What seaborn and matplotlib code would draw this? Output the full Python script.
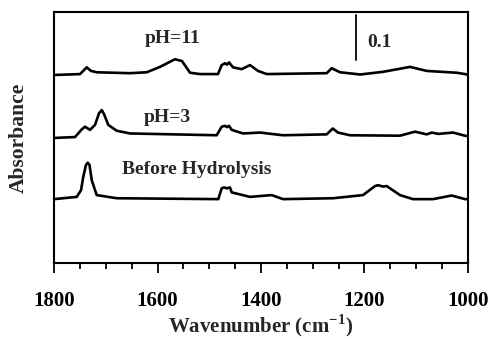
import matplotlib
matplotlib.use("Agg")
import matplotlib.pyplot as plt
import seaborn as sns
import pandas as pd
from matplotlib.ticker import MultipleLocator

# --- data (wavenumber in cm^-1, absorbance with vertical offsets) ---
wn_ph11 = [1800, 1749.8, 1736.8, 1728.5, 1717.5, 1653.1, 1620.9, 1595.2, 1566.2, 1552.7,
           1537.2, 1517.9, 1483.1, 1476.0, 1469.6, 1465.7, 1461.8, 1454.1, 1437.3, 1421.2,
           1405.7, 1388.9, 1273.0, 1263.4, 1247.3, 1215.0, 1208.7, 1164.3, 1112.1, 1079.8,
           1021.8, 1005.8, 1000]
ab_ph11 = [0.418, 0.420, 0.435, 0.427, 0.424, 0.422, 0.424, 0.436, 0.453, 0.449,
           0.423, 0.420, 0.420, 0.440, 0.444, 0.441, 0.446, 0.435, 0.431, 0.440,
           0.427, 0.420, 0.422, 0.433, 0.424, 0.420, 0.419, 0.425, 0.436, 0.427,
           0.423, 0.420, 0.418]

wn_ph3 = [1800, 1759.4, 1746.5, 1740.1, 1730.4, 1720.8, 1713.0, 1707.8, 1703.4, 1695.1,
          1678.8, 1653.1, 1485.6, 1476.0, 1469.6, 1465.7, 1461.8, 1456.6, 1434.8, 1401.9,
          1357.5, 1273.0, 1261.4, 1251.2, 1228.0, 1131.4, 1102.4, 1079.8, 1070.1, 1057.4,
          1028.9, 1005.8, 1000]
ab_ph3 = [0.278, 0.280, 0.297, 0.303, 0.296, 0.307, 0.333, 0.340, 0.331, 0.307,
          0.294, 0.288, 0.284, 0.303, 0.305, 0.302, 0.305, 0.296, 0.288, 0.290,
          0.284, 0.286, 0.299, 0.290, 0.284, 0.283, 0.292, 0.286, 0.290, 0.287,
          0.290, 0.283, 0.282]

wn_before = [1800, 1756.1, 1747.8, 1743.4, 1738.2, 1734.9, 1731.4, 1727.1, 1717.5, 1678.8,
             1482.5, 1476.0, 1471.5, 1465.7, 1460.0, 1456.6, 1421.2, 1379.3, 1357.5, 1260.9,
             1202.9, 1179.7, 1173.9, 1164.3, 1157.1, 1131.4, 1106.3, 1067.6, 1031.5, 1005.8,
             1000]
ab_before = [0.142, 0.147, 0.162, 0.192, 0.218, 0.223, 0.218, 0.184, 0.151, 0.144,
             0.142, 0.166, 0.168, 0.166, 0.168, 0.157, 0.147, 0.151, 0.142, 0.144,
             0.151, 0.171, 0.173, 0.170, 0.171, 0.151, 0.142, 0.142, 0.150, 0.142,
             0.142]

labels = ["pH=11", "pH=3", "Before Hydrolysis"]
x_ticks = [1800, 1600, 1400, 1200, 1000]
scale_bar = 0.1

df = pd.concat([
    pd.DataFrame({"wn": wn_ph11, "ab": ab_ph11, "s": labels[0]}),
    pd.DataFrame({"wn": wn_ph3, "ab": ab_ph3, "s": labels[1]}),
    pd.DataFrame({"wn": wn_before, "ab": ab_before, "s": labels[2]}),
])

sns.set_theme(style="ticks")
plt.rcParams["font.family"] = ["Liberation Serif", "DejaVu Serif"]
plt.rcParams["font.weight"] = "bold"
plt.rcParams["mathtext.fontset"] = "custom"
plt.rcParams["mathtext.rm"] = "Liberation Serif:bold"
plt.rcParams["mathtext.bf"] = "Liberation Serif:bold"

fig = plt.figure(figsize=(4.92, 3.43), dpi=100)
ax = fig.add_axes([0.1098, 0.2332, 0.8414, 0.7318])

for s in labels:
    sub = df[df["s"] == s]
    sns.lineplot(data=sub, x="wn", y="ab", ax=ax, sort=False, estimator=None,
                 color="black", linewidth=1.9, legend=False)

ax.set_xlim(1800, 1000)
ax.set_ylim(0, 0.558)
ax.set_xticks(x_ticks)
ax.set_xticklabels([str(t) for t in x_ticks], fontsize=15, fontweight="bold")
ax.xaxis.set_minor_locator(MultipleLocator(50))
ax.set_yticks([])
ax.tick_params(axis="x", which="major", direction="out", length=7, width=1.3, pad=13, colors="black")
ax.tick_params(axis="x", which="minor", direction="out", length=4, width=1.3, colors="black")
for sp in ax.spines.values():
    sp.set_linewidth(1.5)
    sp.set_color("black")

ax.set_xlabel("Wavenumber (cm$^{-1}$)", fontsize=15, fontweight="bold", labelpad=1)
ax.set_ylabel("Absorbance", fontsize=15.5, fontweight="bold", labelpad=18.5)

# curve labels
ax.text(1570, 0.500, labels[0], ha="center", va="center", fontsize=14, fontweight="bold")
ax.text(1581, 0.324, labels[1], ha="center", va="center", fontsize=14, fontweight="bold")
ax.text(1525, 0.208, labels[2], ha="center", va="center", fontsize=14, fontweight="bold")

# scale bar
ax.plot([1216.4, 1216.4], [0.551, 0.551 - scale_bar], color="black", linewidth=1.3)
ax.text(1172, 0.491, "0.1", ha="center", va="center", fontsize=14, fontweight="bold")

fig.savefig("out.png", dpi=100)
